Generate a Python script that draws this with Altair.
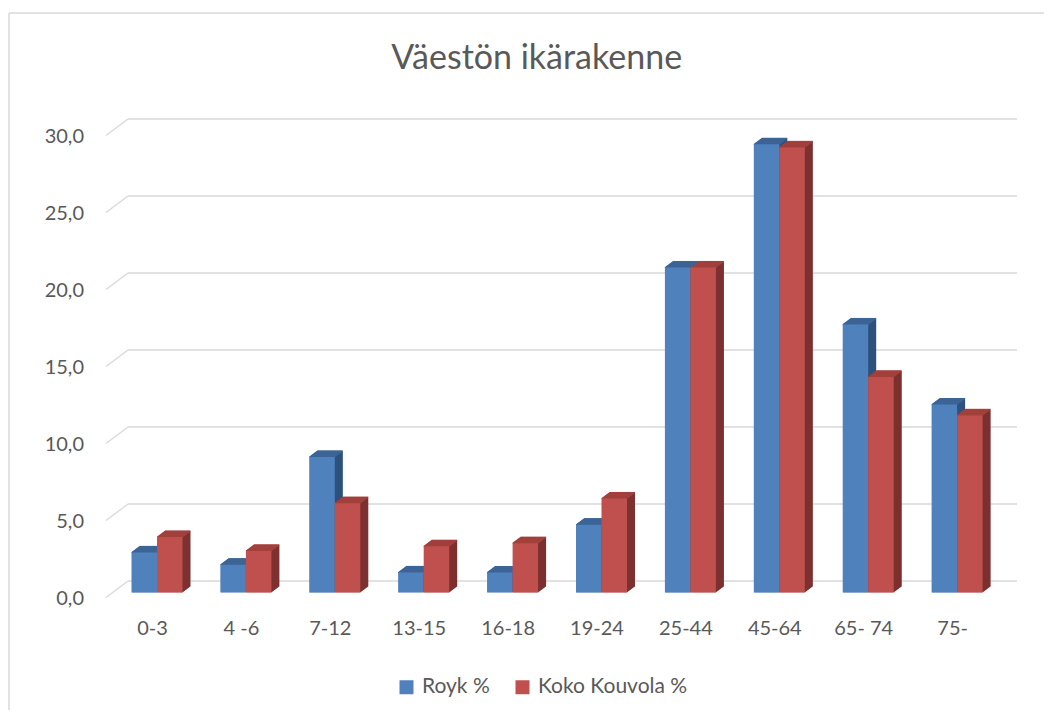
import altair as alt
import pandas as pd

# ---- data ----
CATEGORIES = ["0-3", "4 -6", "7-12", "13-15", "16-18", "19-24", "25-44", "45-64", "65- 74", "75-"]
ROYK = [2.6, 1.8, 8.8, 1.3, 1.3, 4.4, 21.1, 29.1, 17.4, 12.2]
KOUVOLA = [3.6, 2.7, 5.8, 3.0, 3.2, 6.1, 21.1, 28.9, 14.0, 11.5]
SERIES = ["Royk %", "Koko Kouvola %"]
TICKS = [0, 5, 10, 15, 20, 25, 30]
TITLE = "Väestön ikärakenne"

# ---- styles ----
FONT = "Lato"
TEXT = "#595959"
GRID = "#D9D9D9"
FRONT = ["#4F81BD", "#C0504D"]
TOP = ["#3D6596", "#A2403D"]
SIDE = ["#2F527E", "#7D3130"]

W, H = 1036, 702
BAR_W = 25.5
DEPTH_X, DEPTH_Y, STEPS = 8, 6, 16

df = pd.DataFrame({
    "category": CATEGORIES * 2,
    "series": [SERIES[0]] * len(CATEGORIES) + [SERIES[1]] * len(CATEGORIES),
    "value": ROYK + KOUVOLA,
})
ticks_df = pd.DataFrame({"tick": TICKS})
cats_df = pd.DataFrame({"category": CATEGORIES})

x_scale = alt.Scale(domain=CATEGORIES, range=[104.55, 993.55], paddingInner=0.426, paddingOuter=0.213)
y_scale = alt.Scale(domain=[0, 30], range=[584.5, 122.5], nice=False, zero=True)

X = alt.X("category:N", scale=x_scale, axis=None)
Y = alt.Y("value:Q", scale=y_scale, axis=None)


def series_chart(i):
    return alt.Chart(df).transform_filter(alt.datum.series == SERIES[i])


def shift(i):
    # pixel shift of series i inside its category band
    return (i - 0.5) * BAR_W


layers = []

# gridlines on the back wall, with the diagonal on the left wall
layers.append(
    alt.Chart(ticks_df).mark_rule(color=GRID, strokeWidth=1.3, yOffset=5, y2Offset=-11.5).encode(
        y=alt.Y("tick:Q", scale=y_scale, axis=None), y2=alt.Y2("tick:Q"),
        x=alt.value(98), x2=alt.value(120))
)
layers.append(
    alt.Chart(ticks_df).mark_rule(color=GRID, strokeWidth=1.3, yOffset=-11.5).encode(
        y=alt.Y("tick:Q", scale=y_scale, axis=None),
        x=alt.value(120), x2=alt.value(1009))
)

# side faces (oblique extrusion)
for k in range(STEPS, 0, -1):
    dx = DEPTH_X * k / STEPS
    dy = -DEPTH_Y * k / STEPS
    for i in range(2):
        layers.append(
            series_chart(i).mark_bar(width=BAR_W, xOffset=shift(i) + dx, yOffset=dy, y2Offset=dy,
                                     color=SIDE[i]).encode(x=X, y=Y)
        )

# top faces
for k in range(0, STEPS + 1):
    dx = DEPTH_X * k / STEPS
    dy = -DEPTH_Y * k / STEPS
    for i in range(2):
        layers.append(
            series_chart(i).mark_bar(width=BAR_W, xOffset=shift(i) + dx, yOffset=dy - 0.6,
                                     y2Offset=dy + 0.6, color=TOP[i]).encode(
                x=X, y=Y, y2=alt.Y2("value:Q"))
        )

# front faces
for i in range(2):
    layers.append(
        series_chart(i).mark_bar(width=BAR_W, xOffset=shift(i)).encode(
            x=X, y=Y,
            color=alt.Color("series:N", scale=alt.Scale(domain=SERIES, range=FRONT),
                            legend=alt.Legend(orient="none", legendX=388, legendY=668.5,
                                              direction="horizontal", title=None,
                                              symbolType="square", symbolSize=196,
                                              symbolStrokeWidth=0,
                                              labelFontSize=21, labelFont=FONT, labelColor=TEXT,
                                              labelOffset=5, columnPadding=22, padding=0)))
    )

# y tick labels
layers.append(
    alt.Chart(ticks_df).transform_calculate(
        label="replace(format(datum.tick, '.1f'), '.', ',')"
    ).mark_text(align="right", baseline="middle", dy=6.5, fontSize=20, font=FONT, color=TEXT).encode(
        y=alt.Y("tick:Q", scale=y_scale, axis=None), x=alt.value(76), text="label:N")
)

# category labels
layers.append(
    alt.Chart(cats_df).mark_text(baseline="middle", dx=-4.5, fontSize=20, font=FONT, color=TEXT).encode(
        x=X, y=alt.value(621), text="category:N")
)

# title
layers.append(
    alt.Chart(pd.DataFrame({"t": [TITLE]})).mark_text(
        baseline="alphabetic", align="center", fontSize=34, font=FONT, color=TEXT).encode(
        x=alt.value(528.7), y=alt.value(61.3), text="t:N")
)

# chart border (top and left edges visible)
one = pd.DataFrame({"a": [0]})
layers.append(alt.Chart(one).mark_rule(color=GRID, strokeWidth=1.5).encode(
    x=alt.value(1), x2=alt.value(W), y=alt.value(5)))
layers.append(alt.Chart(one).mark_rule(color=GRID, strokeWidth=1.5).encode(
    x=alt.value(1), y=alt.value(5), y2=alt.value(H)))

chart = alt.layer(*layers).properties(
    width=W, height=H, padding=0, autosize=alt.AutoSizeParams(type="none")
).configure_view(stroke=None)

chart.save("out.html", embed_options={"renderer": "svg", "actions": False})
